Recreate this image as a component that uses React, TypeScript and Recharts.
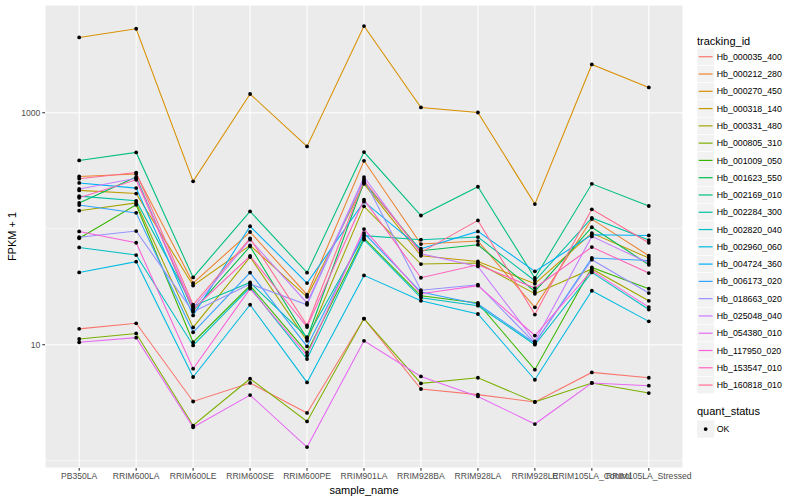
import React from 'react';
import { LineChart, Line, XAxis, YAxis, CartesianGrid, ReferenceLine } from 'recharts';

const FONT = '"Liberation Sans", Arial, Helvetica, sans-serif';

const samples = [
  'PB350LA', 'RRIM600LA', 'RRIM600LE', 'RRIM600SE', 'RRIM600PE', 'RRIM901LA',
  'RRIM928BA', 'RRIM928LA', 'RRIM928LE', 'RRIM105LA_Control', 'RRIM105LA_Stressed',
];

const trackingIds = [
  'Hb_000035_400', 'Hb_000212_280', 'Hb_000270_450', 'Hb_000318_140', 'Hb_000331_480',
  'Hb_000805_310', 'Hb_001009_050', 'Hb_001623_550', 'Hb_002169_010', 'Hb_002284_300',
  'Hb_002820_040', 'Hb_002960_060', 'Hb_004724_360', 'Hb_006173_020', 'Hb_018663_020',
  'Hb_025048_040', 'Hb_054380_010', 'Hb_117950_020', 'Hb_153547_010', 'Hb_160818_010',
];

const seriesColors = [
  '#F8766D', '#EA8331', '#D89000', '#C09B00', '#A3A500',
  '#7CAE00', '#39B600', '#00BB4E', '#00BF7D', '#00C1A3',
  '#00BFC4', '#00BAE0', '#00B0F6', '#35A2FF', '#9590FF',
  '#C77CFF', '#E76BF3', '#FA62DB', '#FF62BC', '#FF6C91',
];

// FPKM + 1 values, one array per tracking_id, in sample order
const hb000035400 = [13.7, 15.3, 3.24, 4.68, 2.58, 16.8, 4.15, 3.71, 3.21, 5.77, 5.19];
const hb000212280 = [282, 296, 34.0, 93.7, 27.0, 385, 73.8, 78.3, 21.0, 121, 58.5];
const hb000270450 = [4460, 5300, 256, 1450, 512, 5590, 1111, 1005, 163, 2608, 1652];
const hb000318140 = [214, 201, 32.4, 71.8, 25.9, 244, 58.5, 52.2, 33.6, 91.8, 55.9];
const hb000331480 = [143, 167, 14.1, 57.0, 10.8, 156, 49.6, 50.6, 27.5, 45.0, 23.9];
const hb000805310 = [11.2, 12.5, 2.01, 5.09, 2.18, 16.8, 4.64, 5.19, 3.21, 4.68, 3.83];
const hb001009050 = [82.8, 161, 10.5, 32.3, 8.58, 83.1, 26.4, 22.9, 6.09, 46.4, 30.4];
const hb001623550 = [167, 279, 19.6, 70.4, 11.3, 252, 64.6, 72.8, 28.8, 103, 48.9];
const hb002169010 = [388, 455, 38.0, 141, 41.8, 458, 130, 230, 37.6, 244, 157];
const hb002284300 = [191, 174, 21.5, 34.4, 11.6, 87.1, 80.4, 84.8, 35.6, 124, 79.9];
const hb002820040 = [69.0, 59.3, 9.86, 31.2, 7.53, 80.4, 25.4, 21.7, 10.0, 42.0, 20.1];
const hb002960060 = [42.0, 52.0, 5.27, 22.1, 4.73, 39.6, 23.9, 18.4, 4.99, 29.2, 15.9];
const hb004724360 = [248, 224, 17.9, 105, 34.0, 171, 67.3, 94.8, 42.9, 88.7, 87.5];
const hb006173020 = [160, 137, 12.8, 41.8, 9.67, 91.8, 28.4, 22.4, 10.3, 55.9, 53.3];
const hb018663020 = [84.5, 95.5, 19.2, 33.4, 22.1, 268, 29.5, 32.9, 10.3, 54.1, 27.9];
const hb025048040 = [220, 272, 20.8, 80.4, 22.9, 279, 60.9, 47.3, 10.7, 85.9, 50.6];
const hb054380010 = [10.5, 11.5, 1.94, 3.68, 1.31, 10.8, 5.33, 3.58, 2.07, 4.68, 4.43];
const hb117950020 = [94.8, 75.7, 6.21, 30.4, 8.09, 99.4, 27.5, 32.3, 12.0, 43.5, 21.1];
const hb153547010 = [185, 264, 20.2, 58.2, 14.2, 178, 37.8, 48.9, 30.8, 69.5, 41.5];
const hb160818010 = [270, 305, 22.1, 82.5, 14.7, 259, 62.5, 118, 18.2, 147, 75.7];

const seriesValues = [
  hb000035400, hb000212280, hb000270450, hb000318140, hb000331480,
  hb000805310, hb001009050, hb001623550, hb002169010, hb002284300,
  hb002820040, hb002960060, hb004724360, hb006173020, hb018663020,
  hb025048040, hb054380010, hb117950020, hb153547010, hb160818010,
];

const yTicks = [10, 1000];
const yMinorGrid = [1, 100];
const yDomain = [0.865, 8490];

const rows = samples.map((s, i) => {
  const r: Record<string, any> = { sample: s };
  trackingIds.forEach((id, k) => {
    r[id] = seriesValues[k][i];
  });
  return r;
});

const XTitle = (p: any) => {
  const vb = p.viewBox || {};
  return (
    <text x={vb.x + vb.width / 2} y={vb.y + 26} textAnchor="middle" fontSize={11} fill="#000" fontFamily={FONT}>
      sample_name
    </text>
  );
};

const YTitle = (p: any) => {
  const vb = p.viewBox || {};
  const x = vb.x + 16;
  const y = vb.y + vb.height / 2;
  return (
    <text x={x} y={y} transform={`rotate(-90, ${x}, ${y})`} textAnchor="middle" fontSize={11} fill="#000" fontFamily={FONT}>
      FPKM + 1
    </text>
  );
};

const KEY = 17.28;
const LEG_X = 697;
const LEG_Y0 = 48.1;

function LegendPanel() {
  return (
    <svg width={110} height={500} style={{ position: 'absolute', left: LEG_X, top: 0 }}>
      <text x={0} y={44.5} fontSize={11} fill="#000" fontFamily={FONT}>tracking_id</text>
      {trackingIds.map((id, k) => {
        const top = LEG_Y0 + k * KEY;
        return (
          <g key={id}>
            <rect x={0} y={top} width={KEY} height={KEY} fill="#F2F2F2" stroke="#FFFFFF" strokeWidth={0.6} />
            <line x1={1.7} x2={KEY - 1.7} y1={top + KEY / 2} y2={top + KEY / 2} stroke={seriesColors[k]} strokeWidth={1.2} />
            <text x={KEY + 2.5} y={top + KEY / 2 + 3.1} fontSize={8.8} fill="#000" fontFamily={FONT}>{id}</text>
          </g>
        );
      })}
      <text x={0} y={415} fontSize={11} fill="#000" fontFamily={FONT}>quant_status</text>
      <rect x={0} y={420.4} width={KEY} height={KEY} fill="#F2F2F2" />
      <circle cx={KEY / 2} cy={420.4 + KEY / 2} r={1.9} fill="#000" />
      <text x={KEY + 2.5} y={420.4 + KEY / 2 + 3.1} fontSize={8.8} fill="#000" fontFamily={FONT}>OK</text>
    </svg>
  );
}

export default function App() {
  return (
    <div style={{ position: 'absolute', left: 0, top: 0, width: 800, height: 500, background: '#fff', fontFamily: FONT }}>
      <LineChart width={800} height={500} data={rows} margin={{ top: 5, right: 117, bottom: 0, left: 0 }}>
        <CartesianGrid fill="#EBEBEB" stroke="#FFFFFF" strokeWidth={1.07} />
        {yMinorGrid.map((v) => (
          <ReferenceLine key={v} y={v} stroke="#FFFFFF" strokeWidth={0.53} />
        ))}
        <XAxis
          dataKey="sample"
          type="category"
          scale="point"
          padding={{ left: 34.2, right: 34.2 }}
          interval={0}
          height={32}
          axisLine={false}
          tickSize={2.7}
          tickMargin={2}
          tickLine={{ stroke: '#333333', strokeWidth: 1.07 }}
          tick={{ fontSize: 8.6, fill: '#4D4D4D', fontFamily: FONT }}
          label={XTitle}
        />
        <YAxis
          type="number"
          scale="log"
          domain={yDomain}
          allowDataOverflow
          ticks={yTicks}
          width={45}
          axisLine={false}
          tickSize={2.7}
          tickMargin={2}
          tickLine={{ stroke: '#333333', strokeWidth: 1.07 }}
          tick={{ fontSize: 8.6, fill: '#4D4D4D', fontFamily: FONT }}
          label={YTitle}
        />
        {trackingIds.map((id, k) => (
          <Line
            key={id}
            type="linear"
            dataKey={id}
            stroke={seriesColors[k]}
            strokeWidth={1.07}
            dot={false}
            activeDot={false}
            isAnimationActive={false}
          />
        ))}
        {trackingIds.map((id) => (
          <Line
            key={id + '_pts'}
            type="linear"
            dataKey={id}
            stroke="none"
            dot={{ r: 1.9, fill: '#000000', stroke: 'none' }}
            activeDot={false}
            legendType="none"
            isAnimationActive={false}
          />
        ))}
      </LineChart>
      <LegendPanel />
    </div>
  );
}
